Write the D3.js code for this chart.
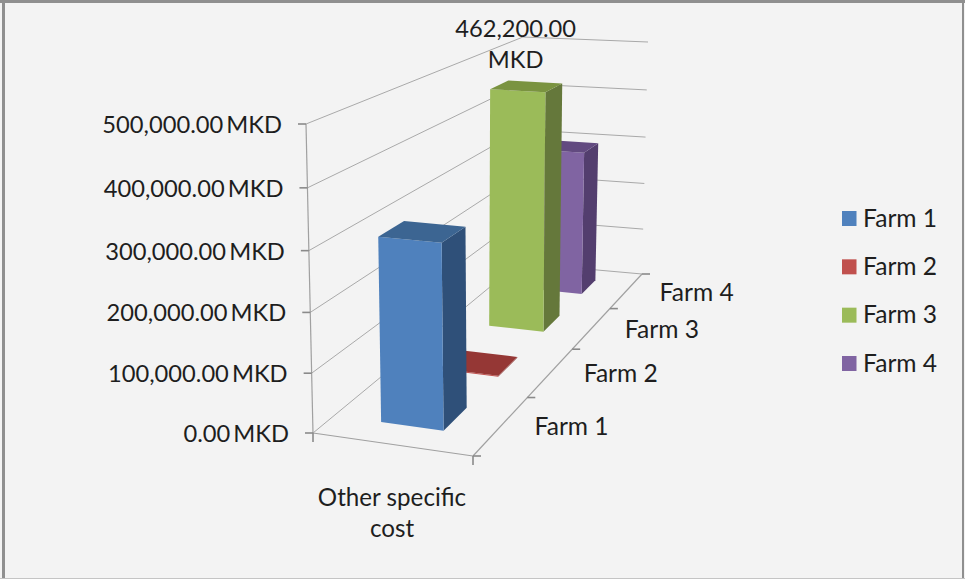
<!DOCTYPE html>
<html>
<head>
<meta charset="utf-8">
<script src="https://cdn.jsdelivr.net/npm/d3@7/dist/d3.min.js"></script>
<style>
html,body{margin:0;padding:0;background:#f3f3f3;}
svg{display:block;}
text{font-family:Lato,"Open Sans",sans-serif;fill:#1e1e1e;}
text.currency{word-spacing:-3px;}
</style>
</head>
<body>
<svg id="chart" width="965" height="579"></svg>
<script>
// Chart data
const category = ["Other specific", "cost"];
const seriesNames = ["Farm 1", "Farm 2", "Farm 3", "Farm 4"];
const seriesValues = [310000, 1500, 462200, 297000];
const valueTicks = [0, 100000, 200000, 300000, 400000, 500000];
const labelledValue = ["462,200.00", "MKD"];
const frontColors = ["#4f81bd", "#c0504d", "#9bbb59", "#8064a2"];
const sideColors = ["#2f5079", "#8c3a37", "#65783b", "#533e6e"];
const topColors = ["#3c6592", "#953735", "#7a9340", "#624a80"];

const fontSize = 23.7;
const nameFontSize = 24.6;
const svg = d3.select("#chart");

// Scene corners of the 3D box on the page: [width side, depth side, height side]
const box = {
  flb: [313, 433], frb: [473, 456], blb: [519, 263], brb: [642, 274],
  flt: [306, 124], frt: [470, 136], blt: [523, 37],  brt: [648, 42]
};

const valueScale = d3.scaleLinear().domain([0, 500000]).range([0, 1]);
const depthScale = d3.scaleLinear().domain([0, seriesNames.length]).range([0, 1]);

// Foreshortening along the depth and height directions
const persp = k => t => k * t / (1 + (k - 1) * t);
const depthPersp = persp(1.42);
const heightPersp = persp(0.96);

const mix = (a, b, t) => [a[0] + (b[0] - a[0]) * t, a[1] + (b[1] - a[1]) * t];

// Project (across 0..1, depth slot position, value) to the page
function project(u, slot, value) {
  const f = depthPersp(depthScale(slot));
  const h = heightPersp(valueScale(value));
  const bottom = mix(mix(box.flb, box.frb, u), mix(box.blb, box.brb, u), f);
  const top = mix(mix(box.flt, box.frt, u), mix(box.blt, box.brt, u), f);
  return mix(bottom, top, h);
}

const poly = pts => "M" + pts.map(p => p.map(n => n.toFixed(2)).join(",")).join("L") + "Z";
const lineOf = (a, b, stroke, width) => svg.append("line")
  .attr("x1", a[0]).attr("y1", a[1]).attr("x2", b[0]).attr("y2", b[1])
  .attr("stroke", stroke).attr("stroke-width", width);

// Panel background and frame
svg.append("rect").attr("width", 965).attr("height", 579).attr("fill", "#f3f3f3");
lineOf([3.5, 0], [3.5, 579], "#8f8f8f", 3);
lineOf([0, 1.5], [965, 1.5], "#8f8f8f", 3);
lineOf([963, 0], [963, 579], "#8f8f8f", 2);
lineOf([0, 578.5], [965, 578.5], "#c4c4c4", 1);

const nSlots = seriesNames.length;
const gridColor = "#a9a9a9";
const axisColor = "#a0a0a0";
const tickColor = "#8a8a8a";

// Gridlines on the left and back walls
valueTicks.forEach(v => {
  const front = project(0, 0, v), corner = project(0, nSlots, v), right = project(1, nSlots, v);
  lineOf(front, corner, gridColor, 1);
  lineOf(corner, right, gridColor, 1);
});

// Floor edges and the value axis
lineOf(project(0, 0, 0), project(1, 0, 0), axisColor, 1.2);
lineOf(project(1, 0, 0), project(1, nSlots, 0), axisColor, 1.2);
lineOf(project(0, 0, 0), project(0, 0, 500000), axisColor, 1.2);

// Value axis ticks and labels
const valueFormat = d3.format(",.2f");
valueTicks.forEach(v => {
  const p = project(0, 0, v);
  lineOf([p[0] - 8, p[1]], p, tickColor, 1.6);
  svg.append("text").attr("class", "currency").attr("x", p[0] - 24).attr("y", p[1] + 9)
    .attr("text-anchor", "end").attr("font-size", fontSize)
    .text(valueFormat(v) + " MKD");
});

// Depth axis ticks and series labels
d3.range(nSlots + 1).forEach(i => {
  const p = project(1, i, 0);
  lineOf(p, [p[0] + 8, p[1]], tickColor, 1.6);
});
seriesNames.forEach((name, i) => {
  const p = project(1, i + 0.5, 0);
  svg.append("text").attr("x", p[0] + 33).attr("y", p[1] + 10)
    .attr("font-size", nameFontSize).text(name);
});

// Category ticks on the front floor edge, and the category label
[0, 1].forEach(u => {
  const p = project(u, 0, 0);
  lineOf(p, [p[0], p[1] + 9], tickColor, 1.6);
});
const catAnchor = project(0.5, 0, 0);
category.forEach((line, i) => {
  svg.append("text").attr("x", catAnchor[0] - 1).attr("y", catAnchor[1] + 61 + i * 31)
    .attr("text-anchor", "middle").attr("font-size", 24.2).text(line);
});

// Bars, painted from the back of the scene to the front
const u0 = 0.3, u1 = 0.7;
d3.range(nSlots - 1, -1, -1).forEach(i => {
  const v = seriesValues[i];
  const d0 = i + 0.3, d1 = i + 0.7;
  const g = svg.append("g");
  g.append("path").attr("fill", sideColors[i]).attr("d", poly([
    project(u1, d0, 0), project(u1, d1, 0), project(u1, d1, v), project(u1, d0, v)]));
  g.append("path").attr("fill", frontColors[i]).attr("d", poly([
    project(u0, d0, 0), project(u1, d0, 0), project(u1, d0, v), project(u0, d0, v)]));
  g.append("path").attr("fill", topColors[i]).attr("d", poly([
    project(u0, d0, v), project(u1, d0, v), project(u1, d1, v), project(u0, d1, v)]));
});

// Value label above the tallest bar
const labelAnchor = project(0.5, 2.5, seriesValues[2]);
labelledValue.forEach((line, i) => {
  svg.append("text").attr("x", labelAnchor[0] - 11).attr("y", labelAnchor[1] - 49 + i * 31)
    .attr("text-anchor", "middle").attr("font-size", fontSize).text(line);
});

// Legend
const legendY = d3.scaleLinear().domain([0, 3]).range([218.5, 363.5]);
seriesNames.forEach((name, i) => {
  svg.append("rect").attr("x", 842).attr("y", legendY(i) - 7.5)
    .attr("width", 14.5).attr("height", 15).attr("fill", frontColors[i]);
  svg.append("text").attr("x", 863).attr("y", legendY(i) + 8)
    .attr("font-size", nameFontSize).text(name);
});
</script>
</body>
</html>
